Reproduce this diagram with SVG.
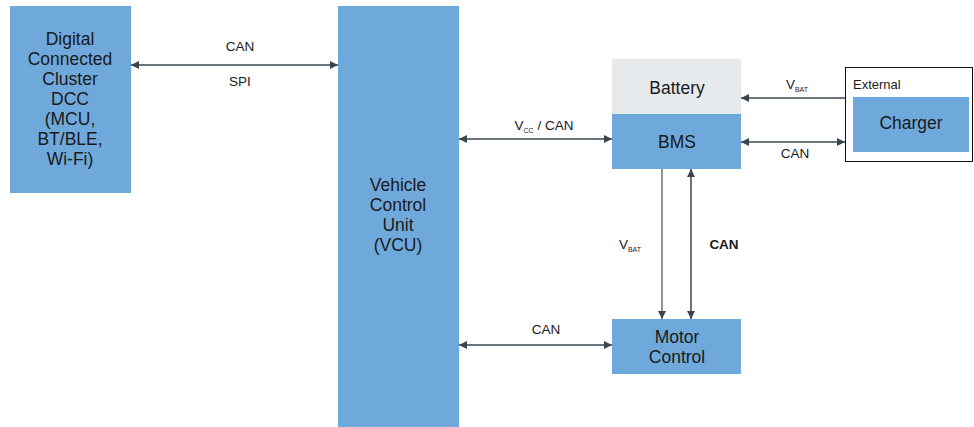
<svg xmlns="http://www.w3.org/2000/svg" width="974" height="427" viewBox="0 0 974 427">
<style>
.blk{fill:#6fa9dc}
.bat{fill:#e6eaed}
.t{font-family:"Liberation Sans",Arial,sans-serif;font-size:17.5px;fill:#1a1a1a;text-anchor:middle}
.l{font-family:"Liberation Sans",Arial,sans-serif;font-size:13.5px;fill:#1a1a1a;text-anchor:middle}
.s{font-size:7px}
.c{stroke:#3a4650;stroke-width:1.5;fill:none}
.g{stroke:#6e6e6e;stroke-width:1.5;fill:none}
</style>
<defs>
<marker id="a" viewBox="0 0 10 10" refX="10" refY="5" markerWidth="8" markerHeight="8" markerUnits="userSpaceOnUse" orient="auto-start-reverse">
<path d="M0,0L10,5L0,10z" fill="#3a4650"/>
</marker>
</defs>
<rect width="974" height="427" fill="#fff"/>
<g id="dcc">
<rect class="blk" x="10" y="6" width="121" height="187"/>
<text class="t" x="70" y="45">Digital</text>
<text class="t" x="70" y="65">Connected</text>
<text class="t" x="70" y="85">Cluster</text>
<text class="t" x="70" y="105">DCC</text>
<text class="t" x="70" y="125">(MCU,</text>
<text class="t" x="70" y="145">BT/BLE,</text>
<text class="t" x="70" y="165">Wi-Fi)</text>
</g>
<g id="vcu">
<rect class="blk" x="338" y="6" width="121" height="421"/>
<text class="t" x="398" y="191">Vehicle</text>
<text class="t" x="398" y="211">Control</text>
<text class="t" x="398" y="231">Unit</text>
<text class="t" x="398" y="251">(VCU)</text>
</g>
<g id="battery">
<rect class="bat" x="612" y="59" width="129" height="55"/>
<text class="t" x="677" y="94">Battery</text>
</g>
<g id="bms">
<rect class="blk" x="612" y="114" width="129" height="55"/>
<text class="t" x="677" y="148">BMS</text>
</g>
<g id="external">
<rect x="845.5" y="67.5" width="127" height="94" fill="#fff" stroke="#111" stroke-width="1"/>
<text x="853" y="89" font-family="Liberation Sans,Arial,sans-serif" font-size="13" fill="#1a1a1a">External</text>
</g>
<g id="charger">
<rect class="blk" x="853" y="97" width="116" height="55"/>
<text class="t" x="911" y="129">Charger</text>
</g>
<g id="motor">
<rect class="blk" x="612" y="319" width="129" height="55"/>
<text class="t" x="677" y="343">Motor</text>
<text class="t" x="677" y="363">Control</text>
</g>
<g id="connectors">
<line class="c" x1="131" y1="65" x2="338" y2="65" marker-start="url(#a)" marker-end="url(#a)"/>
<text class="l" x="240" y="51">CAN</text>
<text class="l" x="240" y="86">SPI</text>
<line class="c" x1="459" y1="139" x2="612" y2="139" marker-start="url(#a)" marker-end="url(#a)"/>
<text class="l" x="544" y="130">V<tspan class="s" dy="3">CC</tspan><tspan dy="-3"> / CAN</tspan></text>
<line class="c" x1="845" y1="98" x2="741" y2="98" marker-end="url(#a)"/>
<text class="l" x="797" y="89">V<tspan class="s" dy="3">BAT</tspan></text>
<line class="c" x1="741" y1="142" x2="845" y2="142" marker-start="url(#a)" marker-end="url(#a)"/>
<text class="l" x="795" y="158">CAN</text>
<line class="g" x1="662" y1="169" x2="662" y2="319" marker-end="url(#a)"/>
<text class="l" x="630" y="249">V<tspan class="s" dy="3">BAT</tspan></text>
<line class="c" x1="691" y1="169" x2="691" y2="319" marker-start="url(#a)" marker-end="url(#a)"/>
<text class="l" x="724" y="249" font-weight="bold" fill="#000">CAN</text>
<line class="c" x1="459" y1="345" x2="612" y2="345" marker-start="url(#a)" marker-end="url(#a)"/>
<text class="l" x="546" y="334">CAN</text>
</g>
</svg>
